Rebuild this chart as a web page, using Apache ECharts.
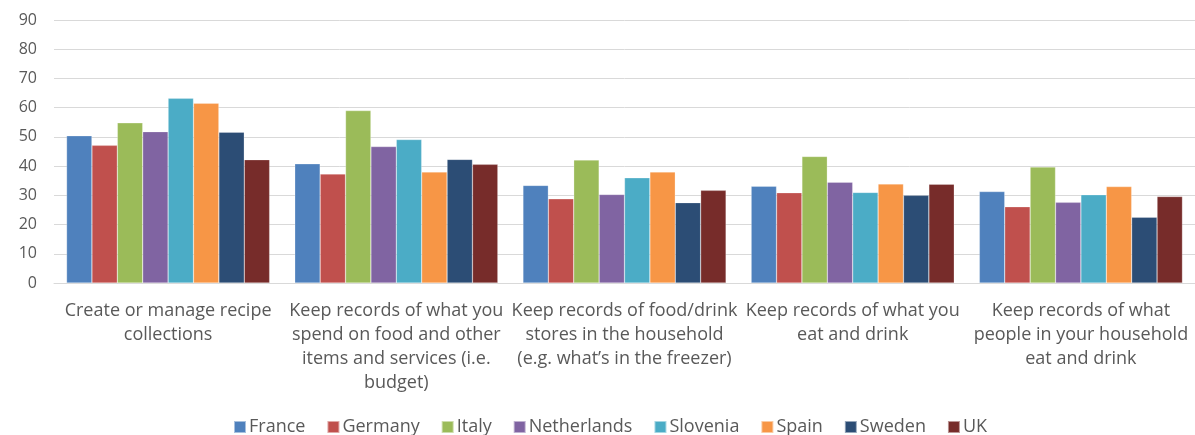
<!DOCTYPE html>
<html><head><meta charset="utf-8">
<script src="https://cdn.jsdelivr.net/npm/echarts@6/dist/echarts.min.js"></script>
<style>html,body{margin:0;padding:0;background:#fff}#c{width:1195px;height:435px}</style>
</head><body><div id="c"></div>
<script>
const categories = [
  "Create or manage recipe\ncollections",
  "Keep records of what you\nspend on food and other\nitems and services (i.e.\nbudget)",
  "Keep records of food/drink\nstores in the household\n(e.g. what’s in the freezer)",
  "Keep records of what you\neat and drink",
  "Keep records of what\npeople in your household\neat and drink"
];
const countries = ["France","Germany","Italy","Netherlands","Slovenia","Spain","Sweden","UK"];
const colors = ["#4F81BD","#C0504D","#9BBB59","#8064A2","#4BACC6","#F79646","#2C4D75","#772C2A"];
const France = [50.4, 40.8, 33.4, 33.1, 31.3];
const Germany = [47.1, 37.3, 28.8, 30.9, 26.1];
const Italy = [54.8, 59.0, 42.1, 43.3, 39.7];
const Netherlands = [51.8, 46.7, 30.3, 34.5, 27.6];
const Slovenia = [63.2, 49.1, 36.0, 31.0, 30.2];
const Spain = [61.5, 38.0, 38.0, 33.9, 33.0];
const Sweden = [51.6, 42.3, 27.5, 30.0, 22.5];
const UK = [42.2, 40.6, 31.7, 33.8, 29.6];
const seriesValues = [France, Germany, Italy, Netherlands, Slovenia, Spain, Sweden, UK];
const yTicks = [0, 10, 20, 30, 40, 50, 60, 70, 80, 90];

const font = "'Open Sans', Lato, sans-serif";
const chart = echarts.init(document.getElementById('c'), null, {renderer: 'canvas'});
chart.setOption({
  animation: false,
  color: colors,
  textStyle: {fontFamily: font},
  grid: {left: 54, right: 0, top: 20, bottom: 152},
  legend: {
    top: 413, left: 228,
    itemWidth: 12, itemHeight: 12, itemGap: 21,
    icon: 'rect',
    textStyle: {fontFamily: font, fontSize: 18, color: '#595959', padding: [0, 0, 0, -2]},
    data: countries
  },
  xAxis: {
    type: 'category',
    data: categories,
    axisLine: {show: true, lineStyle: {color: '#d9d9d9', width: 1}},
    axisTick: {show: false},
    axisLabel: {interval: 0, color: '#595959', fontFamily: font, fontSize: 18, lineHeight: 24, margin: 16}
  },
  yAxis: {
    type: 'value',
    min: yTicks[0], max: yTicks[yTicks.length - 1], interval: 10,
    axisLine: {show: false},
    axisTick: {show: false},
    splitLine: {lineStyle: {color: '#d9d9d9', width: 1}},
    axisLabel: {color: '#595959', fontFamily: font, fontSize: 16, margin: 17}
  },
  series: countries.map((name, i) => ({
    name: name,
    type: 'bar',
    data: seriesValues[i],
    barGap: '0%',
    barCategoryGap: '11%',
    itemStyle: {color: colors[i], borderColor: 'rgba(255,255,255,0.5)', borderWidth: 0.5}
  }))
});
</script></body></html>
